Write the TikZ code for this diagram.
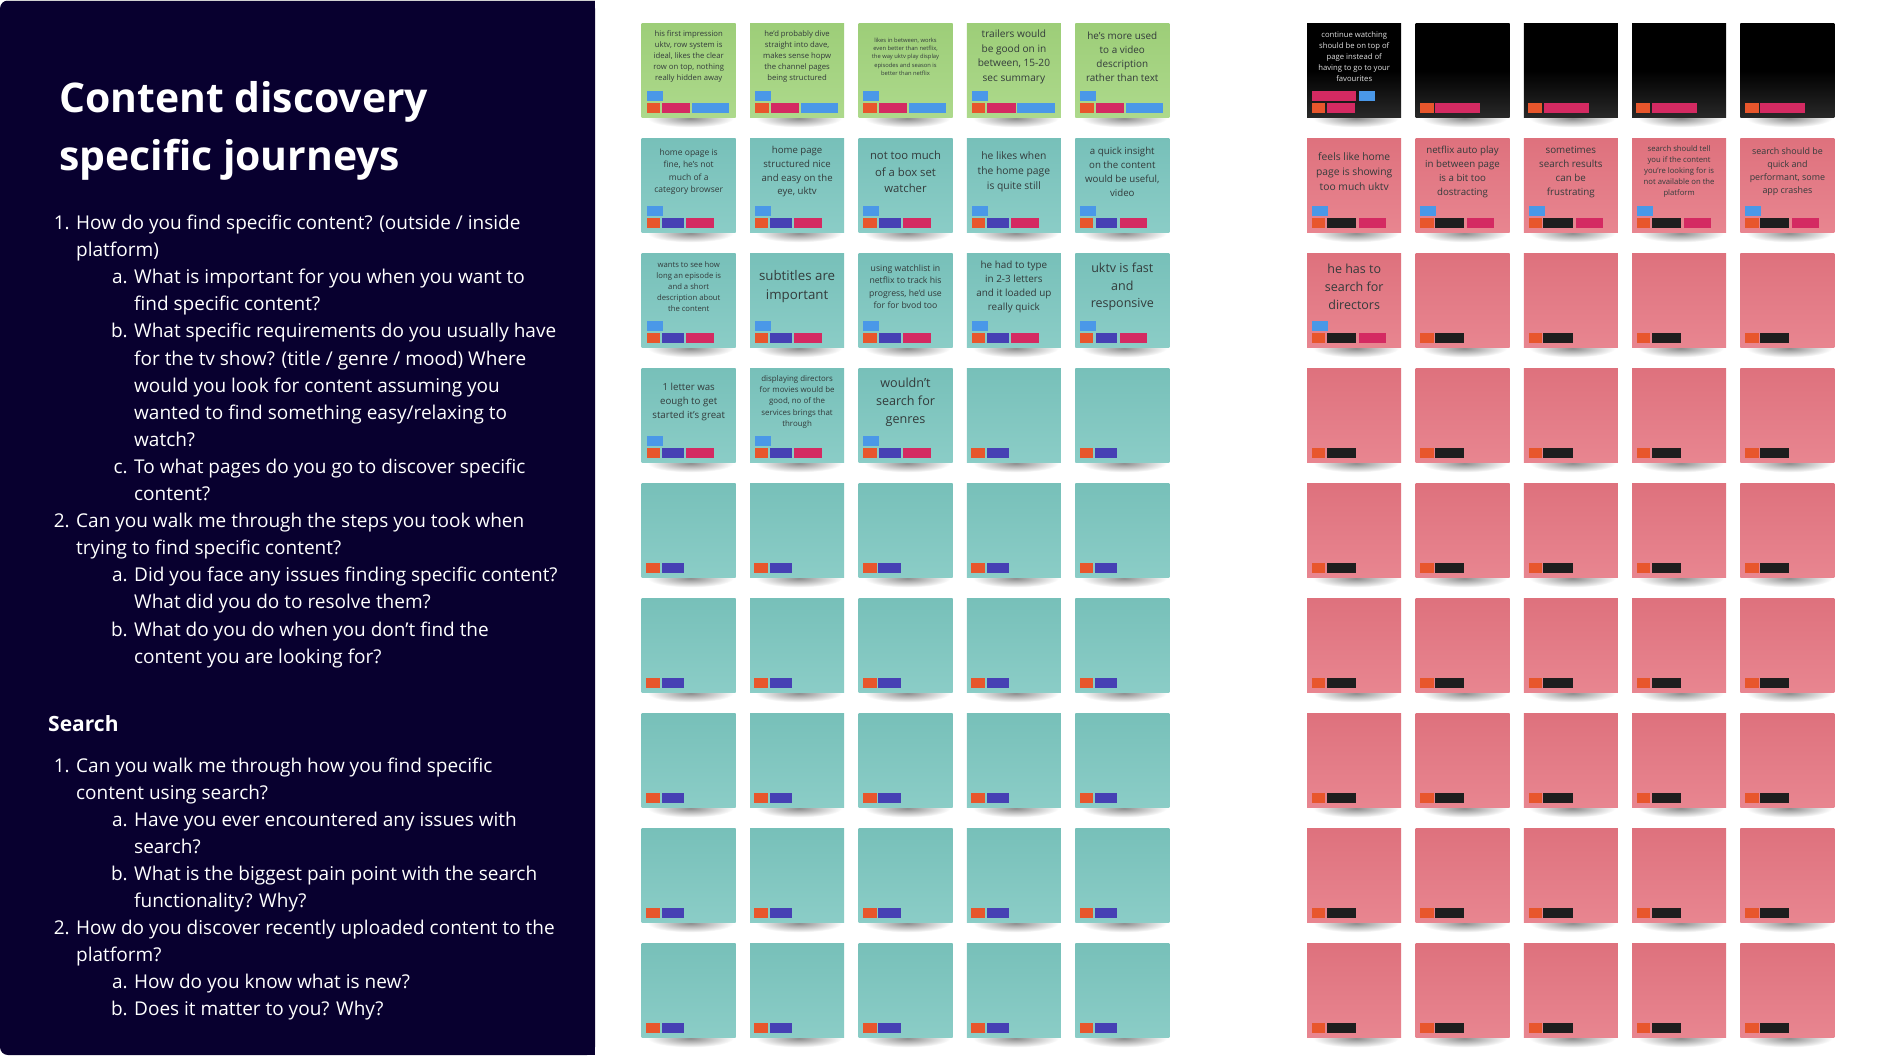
\documentclass[tikz,border=0pt]{standalone}
\usepackage{fontspec}
\setmainfont{Open Sans}
\usetikzlibrary{calc}

\definecolor{panel}{HTML}{08002F}
\definecolor{greennote}{HTML}{A2D47C}
\definecolor{tealnote}{HTML}{7BC6BF}
\definecolor{pinknote}{HTML}{E57581}
\definecolor{tagblue}{HTML}{4A98E8}
\definecolor{tagorange}{HTML}{E8562C}
\definecolor{tagred}{HTML}{D42A62}
\definecolor{tagindigo}{HTML}{4640B4}
\definecolor{tagblack}{HTML}{1E1E1E}
\definecolor{notetext}{HTML}{333B3B}

\tikzset{
  sticky/.style={anchor=north west, minimum width=94pt, minimum height=94pt,
    inner sep=0pt, shade, top color=#1!97!black, bottom color=#1!88!white},
  blacksticky/.style={anchor=north west, minimum width=94pt, minimum height=94pt,
    inner sep=0pt, shade, top color=black, bottom color=black!84!white, middle color=black},
  notetxt/.style={align=center, text=notetext, inner sep=0pt},
  title/.style={anchor=base west, inner sep=0pt, text=white, font=\bfseries\fontsize{40.9}{48}\selectfont},
  qlabel/.style={anchor=base east, inner sep=0pt, text=white, font=\fontsize{19}{27}\selectfont},
  qtext/.style={anchor=base west, inner sep=0pt, text=white, font=\fontsize{19}{27}\selectfont},
}

% shadow + pad
\newcommand{\sticky}[4]{%
  \shade[inner color=black!45, outer color=white] (#2+49,#3+95) ellipse [x radius=43, y radius=9];
  \node[#4] (#1) at (#2,#3) {};
}
\newcommand{\stickytxt}[4]{%
  \node[notetxt, font=\fontsize{#2}{#3}\selectfont] (#1-txt) at ($(#1.north)+(0,33.5)$) {#4};
}
% tag chips: node, x0, x1, row offset, colour
\newcommand{\chip}[5]{%
  \fill[#5] ($(#1.south west)+(#2,#4)$) rectangle ($(#1.south west)+(#3,#4+9.5)$);
}
\newcommand{\chipsgreen}[1]{%
  \chip{#1}{5}{21}{-26.5}{tagblue}
  \chip{#1}{5}{18.6}{-14.5}{tagorange}
  \chip{#1}{20.7}{48.9}{-14.5}{tagred}
  \chip{#1}{50.6}{87.8}{-14.5}{tagblue}
}
\newcommand{\chipsteal}[1]{%
  \chip{#1}{5}{21}{-26.5}{tagblue}
  \chip{#1}{5}{18.3}{-14.5}{tagorange}
  \chip{#1}{20.5}{42.2}{-14.5}{tagindigo}
  \chip{#1}{44.4}{72.3}{-14.5}{tagred}
}
\newcommand{\chipspink}[1]{%
  \chip{#1}{5}{21}{-26.5}{tagblue}
  \chip{#1}{5}{18.3}{-14.5}{tagorange}
  \chip{#1}{19.8}{49}{-14.5}{tagblack}
  \chip{#1}{52}{79}{-14.5}{tagred}
}

\begin{document}
\begin{tikzpicture}[x=1pt,y=-1pt]
  \useasboundingbox (0,0) rectangle (1881,1060);
  \fill[white] (0,0) rectangle (1881,1060);

  % questions panel
  \fill[panel, rounded corners=8pt] (0,0.5) rectangle (595,1055);
  \fill[panel] (560,0.5) rectangle (595,1055);
  \draw[black!18] (6,0.5) -- (595,0.5);

  \node[title] (title1) at (59,112) {Content discovery};
  \node[title] (title2) at (59,170) {specific journeys};

  \foreach \lv/\lb/\tx [count=\k from 0] in {
      1/1./{How do you find specific content? (outside / inside},
      1//{platform)},
      2/a./{What is important for you when you want to},
      2//{find specific content?},
      2/b./{What specific requirements do you usually have},
      2//{for the tv show? (title / genre / mood) Where},
      2//{would you look for content assuming you},
      2//{wanted to find something easy/relaxing to},
      2//{watch?},
      2/c./{To what pages do you go to discover specific},
      2//{content?},
      1/2./{Can you walk me through the steps you took when},
      1//{trying to find specific content?},
      2/a./{Did you face any issues finding specific content?},
      2//{What did you do to resolve them?},
      2/b./{What do you do when you don’t find the},
      2//{content you are looking for?}}{
    \pgfmathsetmacro{\lx}{\lv==1 ? 70 : 128}
    \node[qlabel] (qa-\k-lbl) at (\lx,229.5+27.1*\k) {\lb};
    \node[qtext] (qa-\k) at (\lx+6,229.5+27.1*\k) {\tx};
  }

  \node[anchor=base west, inner sep=0pt, text=white, font=\bfseries\fontsize{21}{25}\selectfont] (search) at (48,731.5) {Search};

  \foreach \lv/\lb/\tx [count=\k from 0] in {
      1/1./{Can you walk me through how you find specific},
      1//{content using search?},
      2/a./{Have you ever encountered any issues with},
      2//{search?},
      2/b./{What is the biggest pain point with the search},
      2//{functionality? Why?},
      1/2./{How do you discover recently uploaded content to the},
      1//{platform?},
      2/a./{How do you know what is new?},
      2/b./{Does it matter to you? Why?}}{
    \pgfmathsetmacro{\lx}{\lv==1 ? 70 : 128}
    \node[qlabel] (qb-\k-lbl) at (\lx,772+27.1*\k) {\lb};
    \node[qtext] (qb-\k) at (\lx+6,772+27.1*\k) {\tx};
  }

  % green row
  \sticky{g1}{641.5}{23.3}{sticky=greennote}
  \stickytxt{g1}{7.7}{11}{his first impression\\uktv, row system is\\ideal, likes the clear\\row on top, nothing\\really hidden away}
  \chipsgreen{g1}
  \sticky{g2}{749.9}{23.3}{sticky=greennote}
  \stickytxt{g2}{7.7}{11}{he'd probably dive\\straight into dave,\\makes sense hopw\\the channel pages\\being structured}
  \chipsgreen{g2}
  \sticky{g3}{858.3}{23.3}{sticky=greennote}
  \stickytxt{g3}{5.8}{8.3}{likes in between, works\\even better than netflix,\\the way uktv play display\\episodes and season is\\better than netflix}
  \chipsgreen{g3}
  \sticky{g4}{966.7}{23.3}{sticky=greennote}
  \stickytxt{g4}{10.1}{14.4}{trailers would\\be good on in\\between, 15-20\\sec summary}
  \chipsgreen{g4}
  \sticky{g5}{1075.1}{23.3}{sticky=greennote}
  \stickytxt{g5}{9.9}{14.2}{he's more used\\to a video\\description\\rather than text}
  \chipsgreen{g5}

  % teal notes with text
  \sticky{t-1-0}{641.5}{138.3}{sticky=tealnote}
  \stickytxt{t-1-0}{8.5}{12.2}{home opage is\\fine, he's not\\much of a\\category browser}
  \chipsteal{t-1-0}
  \sticky{t-1-1}{749.9}{138.3}{sticky=tealnote}
  \stickytxt{t-1-1}{9.6}{13.7}{home page\\structured nice\\and easy on the\\eye, uktv}
  \chipsteal{t-1-1}
  \sticky{t-1-2}{858.3}{138.3}{sticky=tealnote}
  \stickytxt{t-1-2}{11.3}{16.2}{not too much\\of a box set\\watcher}
  \chipsteal{t-1-2}
  \sticky{t-1-3}{966.7}{138.3}{sticky=tealnote}
  \stickytxt{t-1-3}{10.3}{14.7}{he likes when\\the home page\\is quite still}
  \chipsteal{t-1-3}
  \sticky{t-1-4}{1075.1}{138.3}{sticky=tealnote}
  \stickytxt{t-1-4}{9.7}{13.9}{a quick insight\\on the content\\would be useful,\\video}
  \chipsteal{t-1-4}

  \sticky{t-2-0}{641.5}{253.3}{sticky=tealnote}
  \stickytxt{t-2-0}{7.7}{11}{wants to see how\\long an episode is\\and a short\\description about\\the content}
  \chipsteal{t-2-0}
  \sticky{t-2-1}{749.9}{253.3}{sticky=tealnote}
  \stickytxt{t-2-1}{13.3}{19}{subtitles are\\important}
  \chipsteal{t-2-1}
  \sticky{t-2-2}{858.3}{253.3}{sticky=tealnote}
  \stickytxt{t-2-2}{8.7}{12.4}{using watchlist in\\netflix to track his\\progress, he'd use\\for for bvod too}
  \chipsteal{t-2-2}
  \sticky{t-2-3}{966.7}{253.3}{sticky=tealnote}
  \stickytxt{t-2-3}{9.9}{14.1}{he had to type\\in 2-3 letters\\and it loaded up\\really quick}
  \chipsteal{t-2-3}
  \sticky{t-2-4}{1075.1}{253.3}{sticky=tealnote}
  \stickytxt{t-2-4}{12.5}{17.8}{uktv is fast\\and\\responsive}
  \chipsteal{t-2-4}

  \sticky{t-3-0}{641.5}{368.3}{sticky=tealnote}
  \stickytxt{t-3-0}{9.7}{13.8}{1 letter was\\eough to get\\started it's great}
  \chipsteal{t-3-0}
  \sticky{t-3-1}{749.9}{368.3}{sticky=tealnote}
  \stickytxt{t-3-1}{7.9}{11.25}{displaying directors\\for movies would be\\good, no of the\\services brings that\\through}
  \chipsteal{t-3-1}
  \sticky{t-3-2}{858.3}{368.3}{sticky=tealnote}
  \stickytxt{t-3-2}{12.6}{18}{wouldn't\\search for\\genres}
  \chipsteal{t-3-2}

  % empty teal notes
  \foreach \r in {3,...,8}{
    \foreach \c in {0,...,4}{
      \pgfmathtruncatemacro{\idx}{\r*5+\c}
      \ifnum\idx>17
        \pgfmathsetmacro{\nx}{641.5+108.4*\c}
        \pgfmathsetmacro{\ny}{23.3+115*\r}
        \sticky{t-\r-\c}{\nx}{\ny}{sticky=tealnote}
        \chip{t-\r-\c}{4.5}{18.3}{-14.5}{tagorange}
        \chip{t-\r-\c}{20}{42.3}{-14.5}{tagindigo}
      \fi
    }
  }

  % black row
  \sticky{b-0-0}{1307}{23.3}{blacksticky}
  \node[notetxt, text=black!12, font=\fontsize{7.7}{11}\selectfont] (b-0-0-txt) at ($(b-0-0.north)+(0,33.5)$)
    {continue watching\\should be on top of\\page instead of\\having to go to your\\favourites};
  \chip{b-0-0}{5}{49}{-26.5}{tagred}
  \chip{b-0-0}{52}{68}{-26.5}{tagblue}
  \chip{b-0-0}{5}{18}{-14.5}{tagorange}
  \chip{b-0-0}{20}{48}{-14.5}{tagred}
  \foreach \c in {1,...,4}{
    \pgfmathsetmacro{\nx}{1307+108.3*\c}
    \sticky{b-0-\c}{\nx}{23.3}{blacksticky}
    \chip{b-0-\c}{4.5}{18.4}{-14.5}{tagorange}
    \chip{b-0-\c}{20}{65}{-14.5}{tagred}
  }

  % pink notes with text
  \sticky{p-1-0}{1307}{138.3}{sticky=pinknote}
  \stickytxt{p-1-0}{10.3}{14.7}{feels like home\\page is showing\\too much uktv}
  \chipspink{p-1-0}
  \sticky{p-1-1}{1415.3}{138.3}{sticky=pinknote}
  \stickytxt{p-1-1}{9.7}{13.9}{netflix auto play\\in between page\\is a bit too\\dostracting}
  \chipspink{p-1-1}
  \sticky{p-1-2}{1523.6}{138.3}{sticky=pinknote}
  \stickytxt{p-1-2}{9.8}{14}{sometimes\\search results\\can be\\frustrating}
  \chipspink{p-1-2}
  \sticky{p-1-3}{1631.9}{138.3}{sticky=pinknote}
  \stickytxt{p-1-3}{7.7}{11}{search should tell\\you if the content\\you're looking for is\\not available on the\\platform}
  \chipspink{p-1-3}
  \sticky{p-1-4}{1740.2}{138.3}{sticky=pinknote}
  \stickytxt{p-1-4}{8.9}{12.8}{search should be\\quick and\\performant, some\\app crashes}
  \chipspink{p-1-4}

  \sticky{p-2-0}{1307}{253.3}{sticky=pinknote}
  \stickytxt{p-2-0}{12.5}{17.8}{he has to\\search for\\directors}
  \chipspink{p-2-0}

  % empty pink notes
  \foreach \r in {2,...,8}{
    \foreach \c in {0,...,4}{
      \pgfmathtruncatemacro{\idx}{\r*5+\c}
      \ifnum\idx>10
        \pgfmathsetmacro{\nx}{1307+108.3*\c}
        \pgfmathsetmacro{\ny}{23.3+115*\r}
        \sticky{p-\r-\c}{\nx}{\ny}{sticky=pinknote}
        \chip{p-\r-\c}{5}{18.3}{-14.5}{tagorange}
        \chip{p-\r-\c}{19.8}{49}{-14.5}{tagblack}
      \fi
    }
  }
\end{tikzpicture}
\end{document}
